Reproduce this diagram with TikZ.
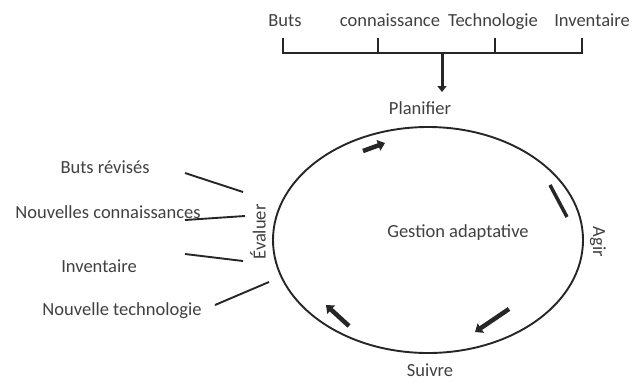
\documentclass[tikz,border=0pt]{standalone}
\usepackage{fontspec}
\setmainfont{Carlito}
\usetikzlibrary{arrows.meta}

\begin{document}
\begin{tikzpicture}[x=1pt,y=-1pt,
  lbl/.style={font=\fontsize{18.5}{20}\selectfont,text=black!75,inner sep=1pt},
  rule/.style={line width=1.9pt,black!85},
  fat/.style={line width=4.5pt,black!85,-{Triangle[length=7pt,width=11pt]}}]
\useasboundingbox (0,0) rectangle (634,381);
% inputs to planning
\node[lbl,anchor=base] (buts) at (285,26) {Buts};
\node[lbl,anchor=base] (conn) at (390,26) {connaissance};
\node[lbl,anchor=base] (tech) at (493,26) {Technologie};
\node[lbl,anchor=base] (inv) at (592,26) {Inventaire};
\foreach \n/\x in {1/283,2/378,3/495,4/582} { \coordinate (t\n) at (\x,38); \coordinate (b\n) at (\x,53); }
\draw[rule] (t1) -- (b1) -- (b4) -- (t4);
\draw[rule] (t2) -- (b2);
\draw[rule] (t3) -- (b3);
\coordinate (mid) at (442,53);
\coordinate (pl) at (442,92);
\draw[rule,line width=3pt,-{Triangle[length=6pt,width=9pt]}] (mid) -- (pl);
\node[lbl] (plan) at (420,108) {Planifier};
% cycle
\coordinate (cyc) at (428,240);
\draw[line width=1.9pt,black!85] (cyc) ellipse (155pt and 113pt);
\node[lbl] (gest) at (458,233) {Gestion adaptative};
\node[lbl,rotate=-90] (agir) at (598,242) {Agir};
\node[lbl] (suiv) at (430,370) {Suivre};
\node[lbl,rotate=90] (eval) at (258,232) {Évaluer};
\coordinate (a1) at (363,151); \coordinate (a2) at (385,143);
\coordinate (c1) at (550,185); \coordinate (c2) at (567,217);
\coordinate (d1) at (509,309); \coordinate (d2) at (475,332);
\coordinate (e1) at (349,326); \coordinate (e2) at (326,305);
\draw[fat] (a1) -- (a2);
\draw[line width=3.5pt,black!85] (c1) -- (c2);
\draw[fat] (d1) -- (d2);
\draw[fat] (e1) -- (e2);
% evaluation feedback
\node[lbl] (rev) at (105,167) {Buts révisés};
\node[lbl] (nconn) at (108,212) {Nouvelles connaissances};
\node[lbl] (ninv) at (99,266) {Inventaire};
\node[lbl] (ntech) at (122,311) {Nouvelle technologie};
\foreach \n/\xa/\ya/\xb/\yb in {1/185/173/243/192,2/185/220/245/216,3/185/254/243/261,4/215/305/269/282} {
  \coordinate (l\n) at (\xa,\ya); \coordinate (r\n) at (\xb,\yb);
  \draw[rule] (l\n) -- (r\n);
}
\end{tikzpicture}
\end{document}
